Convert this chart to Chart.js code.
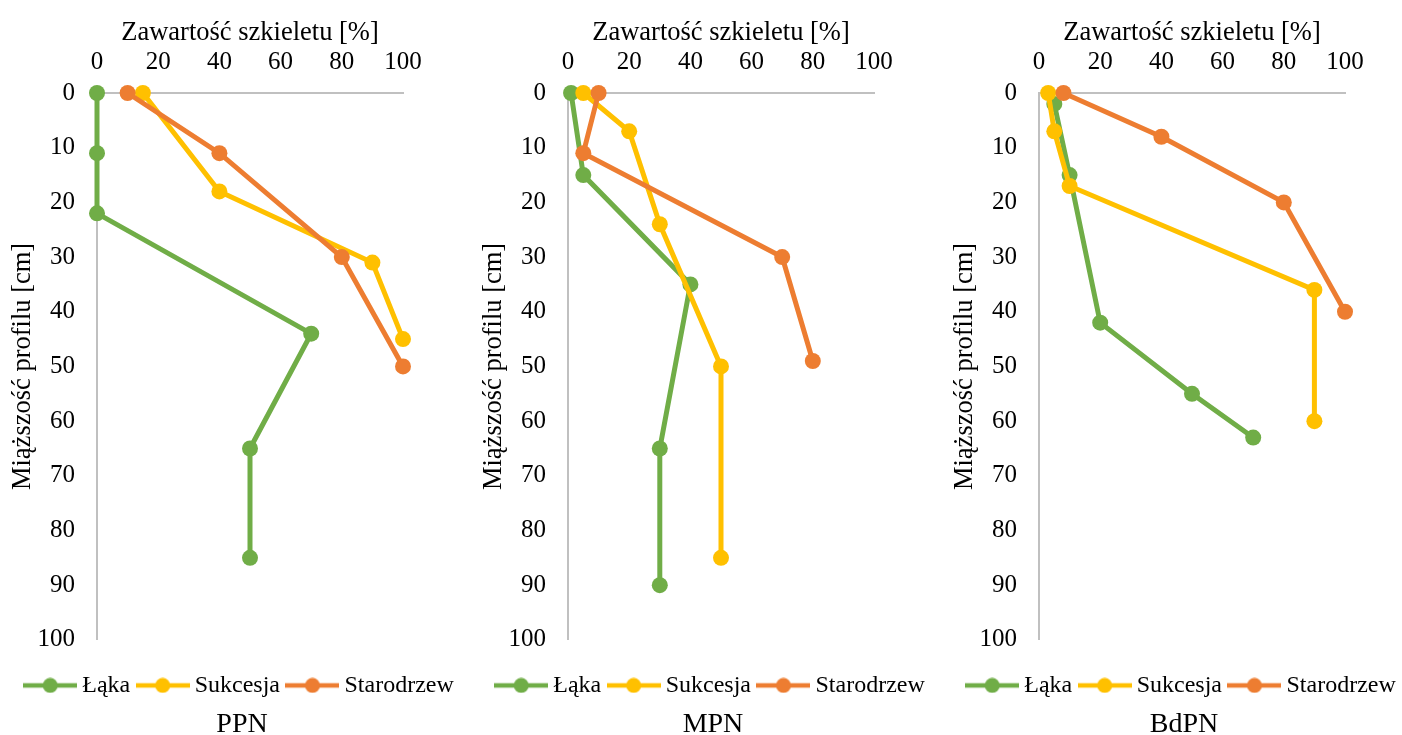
<!DOCTYPE html>
<html>
<head>
<meta charset="utf-8">
<script src="https://cdn.jsdelivr.net/npm/chart.js@4.4.1/dist/chart.umd.min.js"></script>
<style>
body{margin:0;background:#fff;overflow:hidden;width:1402px;height:735px;position:relative;}
canvas{position:absolute;top:0;}
</style>
</head>
<body>
<canvas id="c1" width="484" height="741" style="left:0px"></canvas>
<canvas id="c2" width="484" height="741" style="left:471px"></canvas>
<canvas id="c3" width="484" height="741" style="left:942px"></canvas>
<script>
var seriesNames = ['Łąka', 'Sukcesja', 'Starodrzew'];
var seriesColors = ['#70ad47', '#ffc000', '#ed7d31'];
var panelTitles = ['PPN', 'MPN', 'BdPN'];
var xTitle = 'Zawartość szkieletu [%]';
var yTitle = 'Miąższość profilu [cm]';

// PPN
var ppnLakaX = [0, 0, 0, 70, 50, 50];
var ppnLakaY = [0, 11, 22, 44, 65, 85];
var ppnSukX = [15, 40, 90, 100];
var ppnSukY = [0, 18, 31, 45];
var ppnStarX = [10, 40, 80, 100];
var ppnStarY = [0, 11, 30, 50];

// MPN
var mpnLakaX = [1, 5, 40, 30, 30];
var mpnLakaY = [0, 15, 35, 65, 90];
var mpnSukX = [5, 20, 30, 50, 50];
var mpnSukY = [0, 7, 24, 50, 85];
var mpnStarX = [10, 5, 70, 80];
var mpnStarY = [0, 11, 30, 49];

// BdPN
var bdLakaX = [5, 10, 20, 50, 70];
var bdLakaY = [2, 15, 42, 55, 63];
var bdSukX = [3, 5, 10, 90, 90];
var bdSukY = [0, 7, 17, 36, 60];
var bdStarX = [8, 40, 80, 100];
var bdStarY = [0, 8, 20, 40];

var panels = [
  [[ppnLakaX, ppnLakaY], [ppnSukX, ppnSukY], [ppnStarX, ppnStarY]],
  [[mpnLakaX, mpnLakaY], [mpnSukX, mpnSukY], [mpnStarX, mpnStarY]],
  [[bdLakaX, bdLakaY], [bdSukX, bdSukY], [bdStarX, bdStarY]]
];

var serif = 'Liberation Serif, Times New Roman, serif';
Chart.defaults.font.family = serif;
Chart.defaults.color = '#000';

function toPoints(xs, ys) {
  var pts = [];
  for (var i = 0; i < xs.length; i++) pts.push({x: xs[i], y: ys[i]});
  return pts;
}

// legend marker: line with a dot, like in Excel
function makeIcon(color) {
  var c = document.createElement('canvas');
  c.width = 54; c.height = 16;
  var g = c.getContext('2d');
  g.strokeStyle = color; g.lineWidth = 4.5;
  g.beginPath(); g.moveTo(0, 8); g.lineTo(54, 8); g.stroke();
  g.fillStyle = color;
  g.beginPath(); g.arc(27, 8, 7.5, 0, Math.PI * 2); g.fill();
  return c;
}
var icons = seriesColors.map(makeIcon);

function buildChart(id, idx) {
  var datasets = [];
  for (var s = 0; s < seriesNames.length; s++) {
    datasets.push({
      label: seriesNames[s],
      data: toPoints(panels[idx][s][0], panels[idx][s][1]),
      showLine: true,
      borderColor: seriesColors[s],
      backgroundColor: seriesColors[s],
      pointBackgroundColor: seriesColors[s],
      pointBorderColor: seriesColors[s],
      borderWidth: 5,
      pointRadius: 8,
      pointBorderWidth: 0,
      clip: false,
      order: seriesNames.length - s, // later series on top, as in Excel
      xAxisID: 'x',
      yAxisID: 'y'
    });
  }
  new Chart(document.getElementById(id), {
    type: 'scatter',
    data: {datasets: datasets},
    options: {
      responsive: false,
      animation: false,
      layout: {padding: 0},
      scales: {
        x: {
          type: 'linear', position: 'top', min: 0, max: 100,
          ticks: {stepSize: 20, padding: 16, font: {size: 25}, color: '#000'},
          grid: {display: false, drawTicks: false},
          border: {display: true, color: '#c0c0c0', width: 2},
          title: {display: true, text: xTitle, font: {size: 26.5}, color: '#000', padding: {top: 17, bottom: 0}},
          afterFit: function (sc) { sc.height = 93; }
        },
        y: {
          type: 'linear', position: 'left', min: 0, max: 100, reverse: true,
          ticks: {stepSize: 10, padding: 22, font: {size: 25}, color: '#000'},
          grid: {display: false, drawTicks: false},
          border: {display: true, color: '#c0c0c0', width: 2},
          title: {display: true, text: yTitle, font: {size: 26.5}, color: '#000', padding: {top: 7, bottom: 0}},
          afterFit: function (sc) { sc.width = 97; }
        },
        y2: {
          position: 'right', display: true,
          ticks: {display: false}, grid: {display: false, drawTicks: false}, border: {display: false},
          afterFit: function (sc) { sc.width = 81; }
        },
        x2: {
          position: 'bottom', display: true,
          ticks: {display: false}, grid: {display: false, drawTicks: false}, border: {display: false},
          afterFit: function (sc) { sc.height = 21; }
        }
      },
      plugins: {
        tooltip: {enabled: false},
        legend: {
          position: 'bottom',
          labels: {
            usePointStyle: true,
            pointStyleWidth: 40,
            padding: 12.5,
            font: {size: 24},
            color: '#000',
            sort: function (a, b) { return a.datasetIndex - b.datasetIndex; },
            generateLabels: function (chart) {
              var items = Chart.defaults.plugins.legend.labels.generateLabels(chart);
              items.forEach(function (it) { it.pointStyle = icons[it.datasetIndex]; });
              return items;
            }
          }
        },
        title: {
          display: true, position: 'bottom', text: panelTitles[idx],
          font: {size: 28, weight: 'normal'}, color: '#000',
          padding: {top: 0, bottom: 0}
        }
      }
    }
  });
}

buildChart('c1', 0);
buildChart('c2', 1);
buildChart('c3', 2);
</script>
</body>
</html>
